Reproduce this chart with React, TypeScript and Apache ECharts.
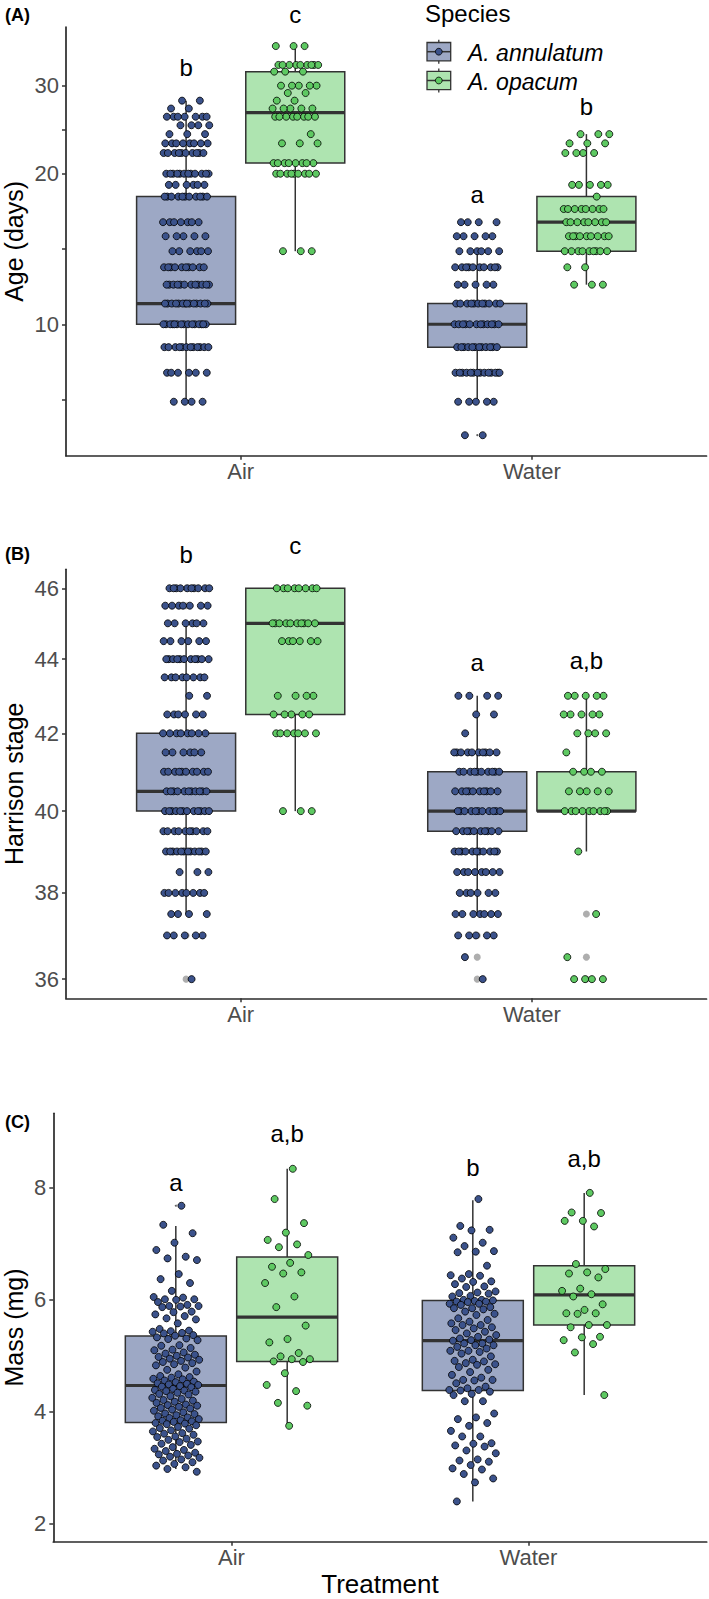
import React, { useEffect, useRef } from 'react';
import * as echarts from 'echarts';

const FONT = 'Liberation Sans, Arial, Helvetica, sans-serif';

const treatments = ['Air', 'Water'];
const speciesNames = ['A. annulatum', 'A. opacum'];
const pointColors = ['#3B528B', '#5EC962'];
const boxFills = ['#9DA8C5', '#AEE4B0'];

// ---------- Panel (A): Age (days), log10 axis ----------
const ageAirAnnLevels = [7, 8, 9, 10, 11, 12, 13, 14, 15, 16, 18, 19, 20, 22, 23, 24, 25, 26, 27, 28];
const ageAirAnnCounts = [4, 6, 12, 15, 14, 12, 10, 6, 5, 7, 11, 6, 12, 10, 8, 3, 4, 7, 2, 2];
const ageAirOpaLevels = [14, 20, 21, 23, 24, 26, 27, 28, 29, 30, 32, 33, 36];
const ageAirOpaCounts = [3, 9, 8, 3, 1, 8, 5, 2, 2, 5, 3, 9, 3];
const ageWaterAnnLevels = [6, 7, 8, 9, 10, 11, 12, 13, 14, 15, 16];
const ageWaterAnnCounts = [2, 5, 14, 12, 12, 11, 5, 10, 6, 5, 4];
const ageWaterOpaLevels = [12, 13, 14, 15, 16, 17, 18, 19, 22, 23, 24];
const ageWaterOpaCounts = [3, 2, 9, 9, 8, 8, 1, 5, 4, 3, 3];
// box stats: [lower whisker, Q1, median, Q3, upper whisker]
const ageBoxAirAnn = [7, 10, 11, 18, 28];
const ageBoxAirOpa = [14, 21, 26.5, 32, 36];
const ageBoxWaterAnn = [7, 9, 10, 11, 14];
const ageBoxWaterOpa = [12, 14, 16, 18, 24];
const ageOutliers = [[], [], [6, 15, 16], []];
const ageLetters = ['b', 'c', 'a', 'b'];
const ageLetterY = [32.6, 41.6, 18.2, 27.25];
const ageTicks = [7.07, 10, 14.14, 20, 24.49, 30];
const ageTickLabels = [10, 20, 30];

// ---------- Panel (B): Harrison stage, log10 axis ----------
const stageAirAnnLevels = [36, 37, 37.5, 38, 38.5, 39, 39.5, 40, 40.5, 41, 41.5, 42, 42.5, 43, 43.5, 44, 44.5, 45, 45.5, 46];
const stageAirAnnCounts = [1, 5, 4, 8, 3, 12, 10, 12, 11, 10, 6, 8, 6, 2, 8, 11, 6, 6, 7, 10];
const stageAirOpaLevels = [40, 42, 42.5, 43, 44.5, 45, 46];
const stageAirOpaCounts = [3, 7, 5, 4, 6, 10, 8];
const stageWaterAnnLevels = [36, 36.5, 37, 37.5, 38, 38.5, 39, 39.5, 40, 40.5, 41, 41.5, 42, 42.5, 43];
const stageWaterAnnCounts = [1, 1, 5, 7, 6, 8, 11, 10, 11, 10, 10, 10, 1, 2, 4];
const stageWaterOpaLevels = [36, 36.5, 37.5, 39, 40, 40.5, 41, 41.5, 42, 42.5, 43];
const stageWaterOpaCounts = [4, 1, 1, 1, 9, 5, 4, 1, 4, 5, 5];
const stageBoxAirAnn = [37.5, 40, 40.5, 42, 45];
const stageBoxAirOpa = [40, 42.5, 45, 46, 46];
const stageBoxWaterAnn = [37.5, 39.5, 40, 41, 43];
const stageBoxWaterOpa = [39, 40, 40, 41, 43];
const stageOutliers = [[46, 45.5, 37, 36], [], [37, 36.5, 36], [37.5, 36.5, 36]];
const stageLetters = ['b', 'c', 'a', 'a,b'];
const stageLetterY = [46.99, 47.24, 43.9, 43.95];
const stageTicks = [36, 38, 40, 42, 44, 46];

// ---------- Panel (C): Mass (mg), linear axis ----------
const massAirAnn = [
  7.67, 7.33, 7.18, 7.01, 6.88, 6.76, 6.73, 6.70, 6.45, 6.36, 6.29, 6.15, 6.04, 6.03, 6.00, 6.00, 5.99, 5.95,
  5.90, 5.88, 5.88, 5.87, 5.86, 5.78, 5.77, 5.73, 5.70, 5.66, 5.64, 5.57, 5.47, 5.44, 5.43, 5.42, 5.40, 5.39, 5.36, 5.35,
  5.32, 5.30, 5.29, 5.27, 5.18, 5.17, 5.13, 5.10, 5.09, 5.05, 5.03, 5.01, 4.99, 4.97, 4.96, 4.94, 4.92, 4.90, 4.88,
  4.86, 4.84, 4.82, 4.78, 4.74, 4.71, 4.66, 4.63, 4.61, 4.60, 4.58, 4.57, 4.55, 4.53, 4.52, 4.50, 4.49, 4.48, 4.47,
  4.45, 4.44, 4.43, 4.40, 4.38, 4.37, 4.36, 4.35, 4.33, 4.31, 4.30, 4.27, 4.24, 4.22, 4.20, 4.19, 4.17, 4.15, 4.12,
  4.11, 4.10, 4.08, 4.06, 4.05, 4.03, 4.01, 3.98, 3.96, 3.95, 3.93, 3.91, 3.89, 3.88, 3.86, 3.84, 3.83, 3.82, 3.81,
  3.79, 3.78, 3.77, 3.75, 3.72, 3.70, 3.69, 3.66, 3.64, 3.61, 3.60, 3.58, 3.55, 3.54, 3.51, 3.49, 3.46, 3.45, 3.42,
  3.40, 3.36, 3.33, 3.31, 3.29, 3.26, 3.24, 3.23, 3.21, 3.19, 3.17, 3.14, 3.12, 3.09, 3.06, 3.03, 3.00, 2.97, 2.92,
];
const massAirOpa = [
  8.33, 7.79, 7.36, 7.19, 7.06, 6.98, 6.93, 6.79, 6.65, 6.58, 6.48, 6.46, 6.29, 6.05, 5.86,
  5.53, 5.29, 5.23, 5.04, 4.98, 4.93, 4.93, 4.89, 4.88, 4.68, 4.47, 4.36, 4.15, 4.10, 3.74,
];
const massWaterAnn = [
  7.79, 7.31, 7.24, 7.23, 7.10, 7.01, 6.95, 6.86, 6.85, 6.84, 6.60, 6.45, 6.43, 6.42, 6.37, 6.32, 6.31, 6.27, 6.23, 6.22,
  6.14, 6.12, 6.11, 6.10, 6.06, 6.05, 5.99, 5.99, 5.98, 5.97, 5.96, 5.96, 5.95, 5.92, 5.92, 5.90, 5.86, 5.84, 5.84, 5.82,
  5.78, 5.74, 5.72, 5.66, 5.63, 5.60, 5.57, 5.54, 5.54, 5.50, 5.48, 5.45, 5.42, 5.39, 5.36, 5.33, 5.30, 5.28, 5.27, 5.26,
  5.21, 5.21, 5.18, 5.18, 5.15, 5.12, 5.08, 5.08, 5.06, 5.03, 4.98, 4.92, 4.90, 4.89, 4.86, 4.84, 4.83, 4.79, 4.74, 4.70,
  4.65, 4.60, 4.56, 4.56, 4.55, 4.50, 4.44, 4.41, 4.38, 4.38, 4.37, 4.35, 4.31, 4.29, 4.18, 4.18, 3.96, 3.89, 3.86, 3.79,
  3.74, 3.65, 3.55, 3.55, 3.43, 3.42, 3.39, 3.37, 3.30, 3.25, 3.14, 3.12, 3.10, 3.04, 2.98, 2.96, 2.88, 2.80, 2.73, 2.39,
];
const massWaterOpa = [
  7.90, 7.55, 7.54, 7.40, 7.40, 7.30, 6.63, 6.54, 6.48, 6.46, 6.39, 6.19, 6.15, 6.09, 6.05,
  5.91, 5.81, 5.75, 5.75, 5.74, 5.54, 5.54, 5.50, 5.33, 5.32, 5.27, 5.20, 5.05, 4.29,
];
const massBoxAirAnn = [2.97, 3.80, 4.46, 5.345, 7.31];
const massBoxAirOpa = [3.74, 4.89, 5.68, 6.755, 8.33];
const massBoxWaterAnn = [2.39, 4.37, 5.26, 5.98, 7.77];
const massBoxWaterOpa = [4.29, 5.54, 6.08, 6.60, 7.90];
const massOutliers = [[7.67], [], [], []];
const massLetters = ['a', 'a,b', 'b', 'a,b'];
const massLetterY = [8.09, 8.96, 8.36, 8.51];
const massTicks = [2, 4, 6, 8];

// ---------- layout constants ----------
const DODGE = 0.1875;
const BOX_W = 0.34;
const JITTER = 0.08;

function expand(levels: number[], counts: number[]): number[] {
  const out: number[] = [];
  levels.forEach((v, k) => {
    for (let j = 0; j < counts[k]; j++) out.push(v);
  });
  return out;
}

// deterministic horizontal spread (presentation only, not data)
function jitter(i: number): number {
  const f = ((i + 1) * 0.6180339887498949) % 1;
  return (f - 0.5) * 2 * JITTER;
}

function groupX(g: number): number {
  const t = g >> 1;
  const s = g & 1;
  return t + 1 + (s ? DODGE : -DODGE);
}

type Panel = {
  groups: number[][];
  boxes: number[][];
  outliers: number[][];
  letters: string[];
  letterY: number[];
  yType: 'log' | 'value';
  yMin: number;
  yMax: number;
  ticks: number[];
  tickLabels: number[];
  grid: { left: number; top: number; width: number; height: number };
  outlierStyle: { size: number; color: string };
};

const panels: Panel[] = [
  {
    groups: [
      expand(ageAirAnnLevels, ageAirAnnCounts),
      expand(ageAirOpaLevels, ageAirOpaCounts),
      expand(ageWaterAnnLevels, ageWaterAnnCounts),
      expand(ageWaterOpaLevels, ageWaterOpaCounts),
    ],
    boxes: [ageBoxAirAnn, ageBoxAirOpa, ageBoxWaterAnn, ageBoxWaterOpa],
    outliers: ageOutliers,
    letters: ageLetters,
    letterY: ageLetterY,
    yType: 'log',
    yMin: 5.46,
    yMax: 39.3,
    ticks: ageTicks,
    tickLabels: ageTickLabels,
    grid: { left: 66, top: 27, width: 640.5, height: 428.7 },
    outlierStyle: { size: 2, color: '#333333' },
  },
  {
    groups: [
      expand(stageAirAnnLevels, stageAirAnnCounts),
      expand(stageAirOpaLevels, stageAirOpaCounts),
      expand(stageWaterAnnLevels, stageWaterAnnCounts),
      expand(stageWaterOpaLevels, stageWaterOpaCounts),
    ],
    boxes: [stageBoxAirAnn, stageBoxAirOpa, stageBoxWaterAnn, stageBoxWaterOpa],
    outliers: stageOutliers,
    letters: stageLetters,
    letterY: stageLetterY,
    yType: 'log',
    yMin: 35.57,
    yMax: 46.55,
    ticks: stageTicks,
    tickLabels: stageTicks,
    grid: { left: 66, top: 569.3, width: 640.5, height: 429 },
    outlierStyle: { size: 7, color: '#9a9a9a' },
  },
  {
    groups: [massAirAnn, massAirOpa, massWaterAnn, massWaterOpa],
    boxes: [massBoxAirAnn, massBoxAirOpa, massBoxWaterAnn, massBoxWaterOpa],
    outliers: massOutliers,
    letters: massLetters,
    letterY: massLetterY,
    yType: 'value',
    yMin: 1.671,
    yMax: 9.321,
    ticks: massTicks,
    tickLabels: massTicks,
    grid: { left: 53.3, top: 1113.3, width: 653.4, height: 428.4 },
    outlierStyle: { size: 2, color: '#333333' },
  },
];

const axisTitles = [
  { text: 'Age (days)', y: 241.4 },
  { text: 'Harrison stage', y: 783.8 },
  { text: 'Mass (mg)', y: 1327.5 },
];
const panelTags = [
  { text: '(A)', y: 15.4 },
  { text: '(B)', y: 553.7 },
  { text: '(C)', y: 1122 },
];

function buildOption() {
  const grid: any[] = [];
  const xAxis: any[] = [];
  const yAxis: any[] = [];
  const series: any[] = [];

  panels.forEach((p, pi) => {
    grid.push({ ...p.grid, containLabel: false, outerBoundsMode: 'none' });
    xAxis.push({
      type: 'value',
      gridIndex: pi,
      min: 0.4,
      max: 2.6,
      axisLine: { show: true, onZero: false, lineStyle: { color: '#2a2a2a', width: 1.7 } },
      axisTick: { show: true, length: 4, customValues: [1, 2], lineStyle: { color: '#333333', width: 1.5 } },
      axisLabel: {
        customValues: [1, 2],
        formatter: (v: number) => treatments[Math.round(v) - 1] ?? '',
        fontSize: 22,
        color: '#4D4D4D',
        fontFamily: FONT,
        margin: 5,
      },
      splitLine: { show: false },
    });
    yAxis.push({
      type: p.yType,
      logBase: 10,
      gridIndex: pi,
      min: p.yMin,
      max: p.yMax,
      axisLine: { show: true, onZero: false, lineStyle: { color: '#2a2a2a', width: 1.7 } },
      axisTick: { show: true, length: 4, customValues: p.ticks, lineStyle: { color: '#333333', width: 1.5 } },
      axisLabel: {
        customValues: p.tickLabels,
        formatter: (v: number) => String(Math.round(v * 100) / 100),
        fontSize: 22,
        color: '#4D4D4D',
        fontFamily: FONT,
        margin: 7,
      },
      splitLine: { show: false },
      minorTick: { show: false },
      minorSplitLine: { show: false },
    });

    // boxes (whiskers, box, median)
    series.push({
      type: 'custom',
      xAxisIndex: pi,
      yAxisIndex: pi,
      silent: true,
      data: p.boxes.map((b, g) => [groupX(g), b[0], b[1], b[2], b[3], b[4], g & 1]),
      encode: { x: 0, y: [1, 2, 3, 4, 5] },
      renderItem: (params: any, api: any) => {
        const x = api.value(0);
        const s = api.value(6);
        const lo = api.coord([x, api.value(1)]);
        const q1 = api.coord([x, api.value(2)]);
        const med = api.coord([x, api.value(3)]);
        const q3 = api.coord([x, api.value(4)]);
        const hi = api.coord([x, api.value(5)]);
        const left = api.coord([x - BOX_W / 2, api.value(3)])[0];
        const right = api.coord([x + BOX_W / 2, api.value(3)])[0];
        const stroke = '#333333';
        return {
          type: 'group',
          children: [
            { type: 'line', shape: { x1: hi[0], y1: hi[1], x2: q3[0], y2: q3[1] }, style: { stroke, lineWidth: 1.5 } },
            { type: 'line', shape: { x1: q1[0], y1: q1[1], x2: lo[0], y2: lo[1] }, style: { stroke, lineWidth: 1.5 } },
            {
              type: 'rect',
              shape: { x: left, y: q3[1], width: right - left, height: q1[1] - q3[1] },
              style: { fill: boxFills[s], stroke, lineWidth: 1.5 },
            },
            { type: 'line', shape: { x1: left, y1: med[1], x2: right, y2: med[1] }, style: { stroke, lineWidth: 3.2 } },
          ],
        };
      },
      z: 1,
    });

    // outliers drawn by the box plot
    const outData: number[][] = [];
    p.outliers.forEach((arr, g) => arr.forEach((v) => outData.push([groupX(g), v])));
    series.push({
      type: 'scatter',
      xAxisIndex: pi,
      yAxisIndex: pi,
      silent: true,
      symbolSize: p.outlierStyle.size,
      itemStyle: { color: p.outlierStyle.color, borderWidth: 0 },
      data: outData,
      z: 2,
    });

    // jittered points, one series per species
    [0, 1].forEach((s) => {
      const data: number[][] = [];
      [0, 1].forEach((t) => {
        const g = t * 2 + s;
        p.groups[g].forEach((v, i) => data.push([groupX(g) + jitter(i), v]));
      });
      series.push({
        type: 'scatter',
        name: speciesNames[s],
        xAxisIndex: pi,
        yAxisIndex: pi,
        silent: true,
        symbolSize: 7,
        itemStyle: { color: pointColors[s], borderColor: '#000000', borderWidth: 0.8, opacity: 1 },
        data,
        z: 3,
      });
    });

    // significance letters
    series.push({
      type: 'custom',
      xAxisIndex: pi,
      yAxisIndex: pi,
      silent: true,
      clip: false,
      data: p.letterY.map((y, g) => [groupX(g), y]),
      encode: { x: 0, y: 1 },
      renderItem: (params: any, api: any) => {
        const pt = api.coord([api.value(0), api.value(1)]);
        return {
          type: 'text',
          x: pt[0],
          y: pt[1],
          style: {
            text: p.letters[params.dataIndex],
            fill: '#000000',
            fontSize: 24,
            fontFamily: FONT,
            align: 'center',
            verticalAlign: 'middle',
          },
        };
      },
      z: 4,
    });
  });

  const graphic: any[] = [];
  axisTitles.forEach((t) => {
    graphic.push({
      type: 'text',
      x: 14,
      y: t.y,
      rotation: Math.PI / 2,
      style: { text: t.text, fontSize: 25, fontFamily: FONT, fill: '#000000', align: 'center', verticalAlign: 'middle' },
    });
  });
  panelTags.forEach((t) => {
    graphic.push({
      type: 'text',
      x: 5,
      y: t.y,
      style: { text: t.text, fontSize: 18, fontWeight: 'bold', fontFamily: FONT, fill: '#000000', align: 'left', verticalAlign: 'middle' },
    });
  });
  graphic.push({
    type: 'text',
    x: 380,
    y: 1583.5,
    style: { text: 'Treatment', fontSize: 26, fontFamily: FONT, fill: '#000000', align: 'center', verticalAlign: 'middle' },
  });

  // legend
  graphic.push({
    type: 'text',
    x: 425,
    y: 13.5,
    style: { text: 'Species', fontSize: 24, fontFamily: FONT, fill: '#000000', align: 'left', verticalAlign: 'middle' },
  });
  const keyCenters = [51.7, 80.5];
  keyCenters.forEach((cy, s) => {
    const cx = 438.8;
    graphic.push({ type: 'line', shape: { x1: cx, y1: cy - 12, x2: cx, y2: cy + 12 }, style: { stroke: '#333333', lineWidth: 1.3 } });
    graphic.push({
      type: 'rect',
      shape: { x: 427, y: cy - 9.2, width: 23.7, height: 18.4 },
      style: { fill: boxFills[s], stroke: '#333333', lineWidth: 1.3 },
    });
    graphic.push({ type: 'line', shape: { x1: 427, y1: cy, x2: 450.7, y2: cy }, style: { stroke: '#333333', lineWidth: 1.5 } });
    graphic.push({ type: 'circle', shape: { cx, cy, r: 3.4 }, style: { fill: pointColors[s], stroke: '#000000', lineWidth: 0.8 } });
    graphic.push({
      type: 'text',
      x: 468,
      y: cy + 1,
      style: {
        text: speciesNames[s],
        fontSize: 23,
        fontStyle: 'italic',
        fontFamily: FONT,
        fill: '#000000',
        align: 'left',
        verticalAlign: 'middle',
      },
    });
  });

  return {
    animation: false,
    backgroundColor: '#ffffff',
    textStyle: { fontFamily: FONT },
    grid,
    xAxis,
    yAxis,
    series,
    graphic,
  };
}

export default function App() {
  const ref = useRef<HTMLDivElement>(null);
  useEffect(() => {
    if (!ref.current) return;
    const chart = echarts.init(ref.current, null, { renderer: 'svg' });
    chart.setOption(buildOption());
    return () => chart.dispose();
  }, []);
  return (
    <div
      ref={ref}
      style={{ position: 'absolute', left: 0, top: 0, width: 709, height: 1599, background: '#ffffff' }}
    />
  );
}
